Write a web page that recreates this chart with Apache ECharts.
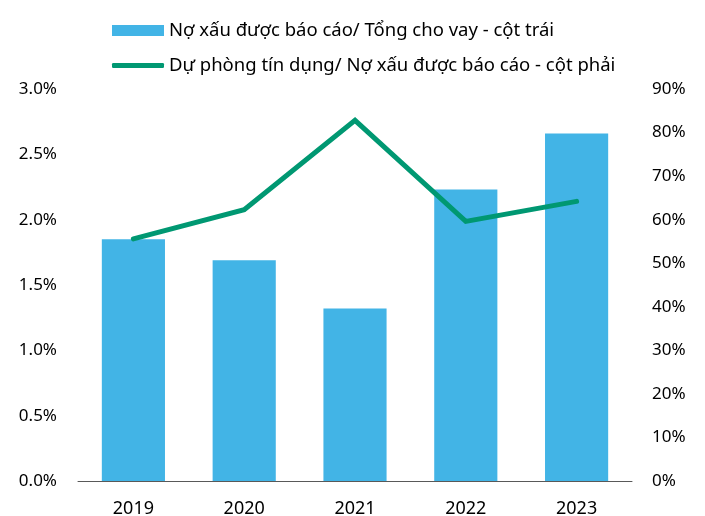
<!DOCTYPE html>
<html>
<head>
<meta charset="utf-8">
<script src="https://cdn.jsdelivr.net/npm/echarts@6/dist/echarts.min.js"></script>
<style>
  html, body { margin: 0; padding: 0; background: #fff; }
  #chart { width: 705px; height: 516px; }
</style>
</head>
<body>
<div id="chart"></div>
<script>
// Categories and series values
const years = ['2019', '2020', '2021', '2022', '2023'];
const nplRatio = [1.85, 1.69, 1.32, 2.23, 2.66];        // % of total loans (left axis)
const coverageRatio = [55.6, 62.3, 82.8, 59.6, 64.2];   // % of reported NPL (right axis)

const barName = 'Nợ xấu được báo cáo/ Tổng cho vay - cột trái';
const lineName = 'Dự phòng tín dụng/ Nợ xấu được báo cáo - cột phải';

const FONT = 'Noto Sans';
const TEXT = '#000000';

const chart = echarts.init(document.getElementById('chart'), null, { renderer: 'canvas' });
chart.setOption({
  backgroundColor: '#ffffff',
  animation: false,
  textStyle: { fontFamily: FONT },
  legend: [
    {
      data: [barName],
      left: 112, top: 21, padding: 0,
      itemWidth: 52, itemHeight: 11,
      icon: 'rect',
      textStyle: { fontFamily: FONT, fontSize: 18.5, color: TEXT },
      selectedMode: false
    },
    {
      data: [lineName],
      left: 112, top: 56, padding: 0,
      itemWidth: 52, itemHeight: 5,
      icon: 'roundRect',
      textStyle: { fontFamily: FONT, fontSize: 18.5, color: TEXT },
      selectedMode: false
    }
  ],
  grid: {
    left: 78, right: 73, top: 89, bottom: 35,
    containLabel: false, outerBoundsMode: 'none'
  },
  xAxis: {
    type: 'category',
    data: years,
    axisTick: { show: false },
    axisLine: { lineStyle: { color: '#595959', width: 1 } },
    axisLabel: { fontFamily: FONT, fontSize: 18, color: TEXT, margin: 19 }
  },
  yAxis: [
    {
      type: 'value', min: 0, max: 3, interval: 0.5,
      splitLine: { show: false },
      axisLine: { show: false }, axisTick: { show: false },
      axisLabel: {
        fontFamily: FONT, fontSize: 17, color: TEXT, margin: 21,
        formatter: v => v.toFixed(1) + '%'
      }
    },
    {
      type: 'value', min: 0, max: 90, interval: 10,
      splitLine: { show: false },
      axisLine: { show: false }, axisTick: { show: false },
      axisLabel: {
        fontFamily: FONT, fontSize: 17, color: TEXT, margin: 20,
        formatter: v => v + '%'
      }
    }
  ],
  series: [
    {
      name: barName,
      type: 'bar',
      yAxisIndex: 0,
      data: nplRatio,
      barWidth: '57%',
      itemStyle: { color: '#42B4E6' }
    },
    {
      name: lineName,
      type: 'line',
      yAxisIndex: 1,
      data: coverageRatio,
      showSymbol: false,
      symbol: 'none',
      lineStyle: { color: '#009872', width: 5, cap: 'round', join: 'miter' },
      itemStyle: { color: '#009872' }
    }
  ]
});
</script>
</body>
</html>
